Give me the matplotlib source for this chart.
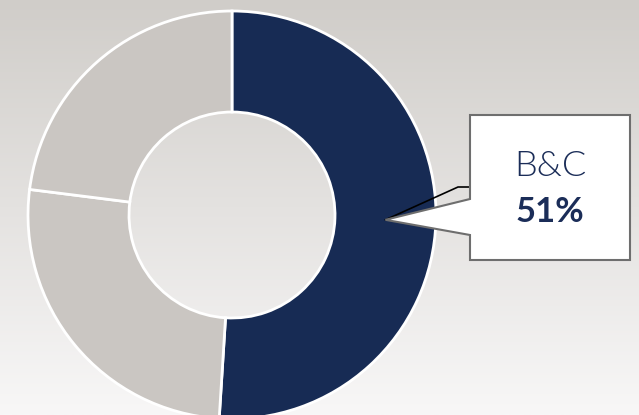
import numpy as np
import matplotlib
matplotlib.use("Agg")
import matplotlib.pyplot as plt
from matplotlib.patches import Polygon

# segment shares, first one is highlighted
labels = ["B&C", "Other A", "Other B"]
shares = [51, 26, 23]
colors = ["#172b54", "#cac6c2", "#cac6c2"]

W, H = 639, 415
NAVY = "#1b2d58"

fig = plt.figure(figsize=(W / 100, H / 100), dpi=100)
ax = fig.add_axes([0, 0, 1, 1])
ax.set_xlim(0, W)
ax.set_ylim(0, H)
ax.axis("off")

# vertical background gradient, darker at top
top = np.array([208, 205, 201]) / 255
bot = np.array([248, 247, 247]) / 255
t = np.linspace(0, 1, 256)[:, None]
grad = (top * (1 - t) + bot * t)[:, None, :]
ax.imshow(grad, extent=[0, W, 0, H], aspect="auto", zorder=0)

cx, cy = 232, H - 215
r_out, r_in = 204, 103
wedges, _ = ax.pie(shares, colors=colors, startangle=90, counterclock=False,
                   center=(cx, cy), radius=r_out,
                   wedgeprops=dict(width=r_out - r_in, edgecolor="white", linewidth=2))
for w in wedges:
    w.set_zorder(2)
ax.set_xlim(0, W)
ax.set_ylim(0, H)
ax.set_aspect("auto")

# callout pointing at the middle of the highlighted wedge
w0 = wedges[0]
mid = np.deg2rad((w0.theta1 + w0.theta2) / 2)
r_mid = (r_out + r_in) / 2
tip = (cx + r_mid * np.cos(mid), cy + r_mid * np.sin(mid))

bx0, bx1 = 470, 630
by0, by1 = H - 260, H - 115
callout = Polygon([(bx0, by1), (bx1, by1), (bx1, by0), (bx0, by0),
                   (bx0, H - 235), tip, (bx0, H - 199)],
                  closed=True, facecolor="white", edgecolor="#6e6e6e",
                  linewidth=1.5, zorder=4)
ax.plot([tip[0], 458, bx0], [tip[1], H - 187, H - 187], color="black",
        linewidth=1.2, zorder=3)
ax.add_patch(callout)

xc = (bx0 + bx1) / 2
ax.text(xc, H - 166, labels[0], ha="center", va="center", fontsize=26,
        family="Lato", fontweight=300, color=NAVY, zorder=5)
ax.text(xc, H - 212, f"{shares[0]}%", ha="center", va="center", fontsize=25,
        family="Lato", fontweight="bold", color=NAVY, zorder=5)

fig.savefig("out.png", dpi=100)
